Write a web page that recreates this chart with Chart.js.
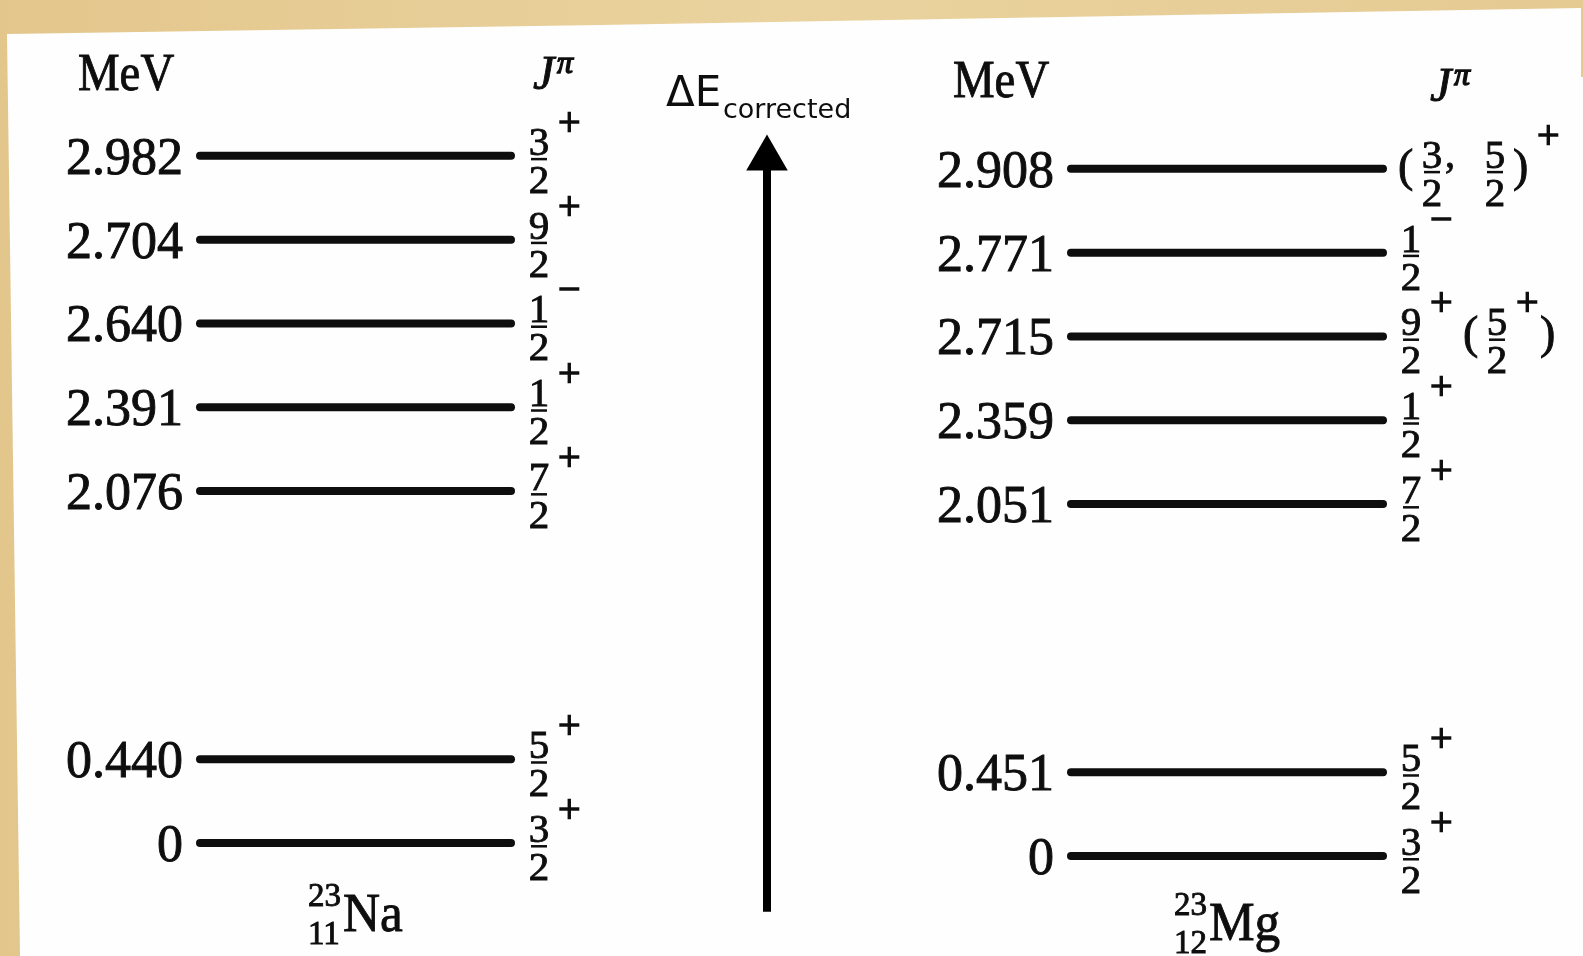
<!DOCTYPE html>
<html>
<head>
<meta charset="utf-8">
<title>23Na / 23Mg mirror levels</title>
<script src="https://cdn.jsdelivr.net/npm/chart.js@4/dist/chart.umd.min.js"></script>
<style>
    html, body { margin: 0; padding: 0; background: #e6cb93; }
    #wrap { width: 1583px; height: 956px; }
</style>
</head>
<body>
<div id="wrap"><canvas id="chart" width="1583" height="956"></canvas></div>
<script>
// Level energies in MeV, top to bottom, with their J^pi
const naEnergies = [2.982, 2.704, 2.640, 2.391, 2.076, 0.440, 0];
const naSpins = ['3/2+', '9/2+', '1/2-', '1/2+', '7/2+', '5/2+', '3/2+'];
const mgEnergies = [2.908, 2.771, 2.715, 2.359, 2.051, 0.451, 0];
const mgSpins = ['(3/2, 5/2)+', '1/2-', '9/2+ (5/2+)', '1/2+', '7/2+', '5/2+', '3/2+'];

const nucleusMass = ['23', '23'];
const nucleusZ = ['11', '12'];
const nucleusSymbol = ['Na', 'Mg'];

// Layout (x in canvas-wide layout units, y in schematic level slots)
const BAND_GAP = 2.2;               // break between the bound pair and the 2-3 MeV group
const NA_X = [200, 511];
const MG_X = [1071, 1383];
const ARROW_X = 767;
const ARROW_FROM = -0.82;
const ARROW_TO = 8.17;
const INK = '#0e0e0e';
const SERIF = '"Liberation Serif", "Times New Roman", serif';

/**
 * Schematic diagram: levels sit on evenly spaced slots in order of energy,
 * with a fixed break above the low-lying states.
 */
function slotsFor(energies) {
    const asc = [...energies].sort((a, b) => a - b);
    return energies.map(e => asc.indexOf(e) + (e > 1 ? BAND_GAP : 0));
}

const naSlots = slotsFor(naEnergies);
const mgSlots = slotsFor(mgEnergies);

function levelDataset(xs, slot, axis) {
    return {
        data: [{ x: xs[0], y: slot }, { x: xs[1], y: slot }],
        yAxisID: axis,
        showLine: true,
        borderColor: INK,
        borderWidth: 8,
        borderCapStyle: 'round',
        pointRadius: 0,
        pointHoverRadius: 0
    };
}

const datasets = [
    ...naSlots.map(s => levelDataset(NA_X, s, 'yNa')),
    ...mgSlots.map(s => levelDataset(MG_X, s, 'yMg')),
    {
        data: [{ x: ARROW_X, y: ARROW_FROM }, { x: ARROW_X, y: ARROW_TO }],
        yAxisID: 'yNa',
        showLine: true,
        borderColor: '#000',
        backgroundColor: '#000',
        borderWidth: 8,
        pointStyle: 'triangle',
        pointRadius: [0, 24],
        pointBorderWidth: 0,
        pointHoverRadius: 0
    }
];

function formatEnergy(e) {
    return e === 0 ? '0' : e.toFixed(3);
}

// scanned print: ink slightly spread, so serif text gets a thin outline
function text(ctx, str, x, y, font, align = 'left', sx = 1, ink = 0.9) {
    ctx.save();
    ctx.font = font;
    ctx.textAlign = align;
    ctx.textBaseline = 'alphabetic';
    ctx.translate(x, y);
    ctx.scale(sx, 1);
    ctx.fillText(str, 0, 0);
    if (ink > 0) {
        ctx.lineWidth = ink;
        ctx.strokeStyle = ctx.fillStyle;
        ctx.strokeText(str, 0, 0);
    }
    ctx.restore();
}

/** Draws a J^pi string such as "9/2+ (5/2+)" starting at x, centred on the level y. */
function drawSpin(ctx, spin, x, y) {
    const tokens = spin.match(/\d+\/\d+|[()+\-, ]/g);
    let cx = x;
    let prev = 'start';
    ctx.font = `40px ${SERIF}`;
    const fracW = ctx.measureText('0').width;

    tokens.forEach(t => {
        if (t.includes('/')) {
            const [num, den] = t.split('/');
            cx += prev === '(' ? 9 : prev === ',' ? 32 : prev === 'start' ? 18 : 4;
            text(ctx, num, cx + fracW / 2, y - 1, `41px ${SERIF}`, 'center');
            ctx.fillRect(cx + 2, y + 2, fracW - 4, 2.5);
            text(ctx, den, cx + fracW / 2, y + 37, `41px ${SERIF}`, 'center');
            cx += fracW;
            prev = 'frac';
        } else if (t === '+' || t === '-') {
            cx += 9;
            text(ctx, t === '+' ? '+' : '\u2212', cx, y - 21, `40px ${SERIF}`, 'left', 1, 1.4);
            cx += 21;
            prev = 'sign';
        } else if (t === '(') {
            cx += prev === 'start' ? 15 : 12;
            text(ctx, '(', cx, y + 12, `46px ${SERIF}`);
            cx += 15;
            prev = '(';
        } else if (t === ')') {
            cx += prev === 'sign' ? 3 : 8;
            text(ctx, ')', cx, y + 12, `46px ${SERIF}`);
            cx += 15;
            prev = ')';
        } else if (t === ',') {
            cx += 3;
            text(ctx, ',', cx, y - 2, `40px ${SERIF}`);
            cx += 8;
            prev = ',';
        }
    });
}

const paperPlugin = {
    id: 'paper',
    beforeDraw(chart) {
        const { ctx, width, height } = chart;
        ctx.save();
        const g = ctx.createLinearGradient(0, 0, width, 0);
        g.addColorStop(0, '#e3c68c');
        g.addColorStop(0.5, '#ead39f');
        g.addColorStop(1, '#e5ca92');
        ctx.fillStyle = g;
        ctx.fillRect(0, 0, width, height);
        ctx.fillStyle = '#fefefe';
        ctx.beginPath();
        ctx.moveTo(7, 34);
        ctx.lineTo(600, 25);
        ctx.lineTo(1581, 8);
        ctx.lineTo(1581, 77);
        ctx.lineTo(width, 77);
        ctx.lineTo(width, height);
        ctx.lineTo(20, height);
        ctx.closePath();
        ctx.fill();
        ctx.restore();
    }
};

const labelPlugin = {
    id: 'levelLabels',
    afterDatasetsDraw(chart) {
        const { ctx, scales } = chart;
        const x = scales.x;
        ctx.save();
        ctx.fillStyle = INK;

        const sides = [
            { energies: naEnergies, spins: naSpins, slots: naSlots, xs: NA_X, y: scales.yNa },
            { energies: mgEnergies, spins: mgSpins, slots: mgSlots, xs: MG_X, y: scales.yMg }
        ];
        sides.forEach(side => {
            const left = x.getPixelForValue(side.xs[0]);
            const right = x.getPixelForValue(side.xs[1]);
            side.energies.forEach((e, i) => {
                const py = side.y.getPixelForValue(side.slots[i]);
                text(ctx, formatEnergy(e), left - 17, py + 18, `52px ${SERIF}`, 'right');
                drawSpin(ctx, side.spins[i], right, py);
            });
        });

        // column headings
        text(ctx, 'MeV', 78, 90, `52px ${SERIF}`, 'left', 0.9);
        text(ctx, 'MeV', 953, 97, `52px ${SERIF}`, 'left', 0.9);
        text(ctx, 'J', 533, 89, `italic 48px ${SERIF}`);
        text(ctx, '\u03c0', 557, 73, `italic 32px ${SERIF}`, 'left', 1, 1.4);
        text(ctx, 'J', 1430, 101, `italic 48px ${SERIF}`);
        text(ctx, '\u03c0', 1454, 85, `italic 32px ${SERIF}`, 'left', 1, 1.4);

        // nuclide names
        const nameX = [308, 1174];
        const nameY = [931, 940];
        nucleusSymbol.forEach((sym, i) => {
            text(ctx, nucleusMass[i], nameX[i], nameY[i] - 25, `33px ${SERIF}`);
            text(ctx, nucleusZ[i], nameX[i], nameY[i] + 13, `33px ${SERIF}`);
            text(ctx, sym, nameX[i] + 35, nameY[i], `54px ${SERIF}`, 'left', 0.95);
        });

        // energy axis title
        text(ctx, '\u0394E', 666, 106, '42px "DejaVu Sans", sans-serif', 'left', 1, 0);
        text(ctx, 'corrected', 723, 118, '27px "DejaVu Sans", sans-serif', 'left', 1, 0);
        ctx.restore();
    }
};

new Chart(document.getElementById('chart'), {
    type: 'scatter',
    data: { datasets },
    options: {
        responsive: false,
        animation: false,
        devicePixelRatio: 1,
        events: [],
        layout: { padding: 0, autoPadding: false },
        plugins: { legend: { display: false }, tooltip: { enabled: false } },
        scales: {
            x: { type: 'linear', min: 0, max: 1583, display: false },
            yNa: { type: 'linear', min: -1.348, max: 10.06, display: false },
            yMg: { type: 'linear', min: -1.193, max: 10.215, display: false }
        }
    },
    plugins: [paperPlugin, labelPlugin]
});
</script>
</body>
</html>
